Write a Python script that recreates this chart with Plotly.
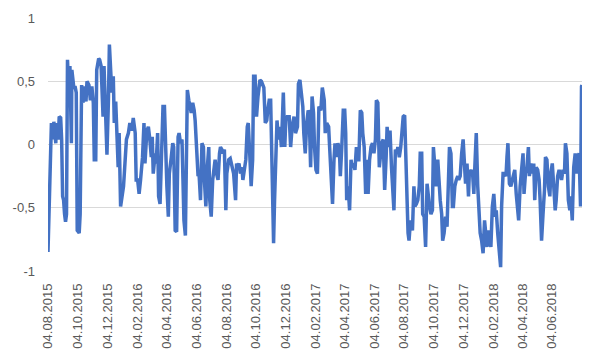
import datetime as dt
import plotly.graph_objects as go

start_date = dt.date(2015, 8, 4)

# day offsets from 04.08.2015 and the series values
day_offsets = [
    0, 3, 7, 10, 12, 16, 17, 21, 23, 26, 28, 30, 32, 34, 36, 38, 40, 43, 45, 48,
    49, 53, 56, 58, 60, 64, 66, 69, 72, 74, 78, 80, 84, 87, 90, 93, 95, 98, 100, 104,
    106, 109, 113, 115, 119, 121, 124, 126, 129, 131, 134, 136, 139, 142, 144, 146, 149, 155,
    161, 165, 168, 172, 175, 179, 181, 184, 187, 190, 194, 197, 199, 203, 206, 209, 212, 214,
    216, 220, 222, 225, 227, 230, 233, 236, 239, 241, 244, 247, 249, 253, 256, 258, 261, 264,
    267, 269, 272, 275, 277, 279, 282, 284, 286, 289, 291, 294, 297, 300, 302, 305, 308, 310,
    313, 316, 319, 321, 324, 327, 330, 332, 335, 338, 341, 343, 346, 349, 352, 354, 357,
    359, 362, 365, 367, 371, 374, 378, 381, 385, 387, 389, 392, 395, 398, 400, 403, 406, 409,
    411, 414, 417, 420, 422, 425, 428, 431, 435, 438, 440, 443, 446, 449, 451, 454, 457, 459,
    461, 463, 465, 468, 470, 473, 476, 479, 481, 483, 486, 488, 491, 495, 498, 501, 505, 508,
    512, 514, 517, 520, 523, 525, 528, 531, 534, 536, 539, 542, 545, 547, 550, 553,
    556, 560, 563, 567, 569, 572, 576, 578, 581, 584, 587, 589, 592, 595, 598, 600, 603, 606,
    609, 611, 613, 616, 619, 622, 624, 627, 630, 633, 635, 638, 641, 644, 646, 649, 652, 655,
    657, 660, 663, 666, 669, 672, 674, 677, 680, 683, 685, 688, 691, 694, 696, 699, 702, 705,
    707, 710, 713, 716, 718, 721, 724, 727, 729, 732, 735, 737, 739, 741, 744,
    748, 751, 753, 756, 759, 762, 764, 767, 769, 772, 775, 778, 780, 783, 786, 789, 791, 794,
    797, 800, 802, 805, 808, 810, 813, 816, 819, 821, 824, 827, 830, 832, 835, 838, 841, 843,
    846, 849, 852, 854, 857, 860, 863, 865, 868, 871, 874, 876, 879, 882, 885, 887, 890, 893,
    896, 898, 901, 904, 907, 909, 912, 915, 918, 920, 923, 926, 929, 931, 934, 937, 940, 942, 944,
    947, 950, 953, 955, 958, 961, 964, 966, 969, 972, 975, 977, 980, 983, 986, 988, 991, 994,
    997, 999, 1002, 1005, 1008, 1010, 1013, 1016, 1019, 1021, 1024, 1027, 1030, 1032, 1035, 1038,
    1041, 1043, 1046, 1049, 1052, 1054, 1057, 1060, 1062, 1065, 1068, 1071, 1073, 1076, 1079,
    1082, 1084, 1087, 1090, 1093, 1095, 1096,
]

values = [
    -0.85, -0.41, 0.17, 0.04, 0.18, 0.01, 0.17, 0.04, 0.22, 0.21, 0.04, -0.41, -0.44, -0.55, -0.61, -0.55, 0.67, 0.38, 0.62, 0.01,
    0.59, 0.45, 0.45, 0.41, -0.68, -0.70, -0.55, 0.47, 0.33, 0.46, 0.34, 0.50, 0.47, 0.35, 0.46, 0.33, -0.12, -0.12, 0.59, 0.68,
    0.67, 0.62, 0.22, 0.62, 0.14, -0.08, 0.35, 0.79, 0.56, 0.41, 0.54, 0.17, 0.34, 0.06, -0.18, 0.09, -0.49, -0.33,
    0.04, 0.09, 0.17, 0.11, 0.21, 0.09, -0.28, -0.28, -0.39, -0.28, -0.10, 0.17, -0.15, 0.11, 0.14, 0.04, -0.10, 0.06,
    -0.23, -0.07, -0.15, 0.09, -0.41, -0.47, -0.04, 0.30, 0.30, -0.04, -0.33, -0.57, -0.23, -0.10, 0.01, -0.02, -0.68, -0.69,
    0.06, 0.09, 0.01, 0.04, -0.18, -0.60, -0.72, -0.04, 0.43, 0.35, 0.30, 0.25, 0.33, 0.27, 0.19, -0.12, -0.25, -0.23,
    -0.44, 0.01, -0.02, -0.28, -0.49, -0.18, -0.02, -0.44, -0.57, -0.28, -0.20, -0.12, -0.23, -0.28, -0.07, -0.02, -0.04,
    -0.07, -0.04, -0.52, -0.23, -0.12, -0.11, -0.18, -0.23, -0.44, -0.15, -0.18, -0.15, -0.23, -0.18, -0.28, -0.18, -0.12, 0.14,
    0.17, -0.07, -0.33, -0.12, 0.54, 0.54, 0.22, 0.38, 0.51, 0.50, 0.47, 0.45, 0.17, 0.19, 0.27, 0.35, 0.35, -0.10,
    -0.44, -0.78, -0.44, 0.09, 0.19, 0.04, 0.14, -0.02, 0.14, 0.41, -0.02, 0.19, 0.22, 0.22, -0.02, 0.14, 0.22, 0.09,
    0.14, 0.48, 0.51, 0.41, 0.30, 0.09, -0.07, 0.17, 0.27, 0.25, -0.18, 0.38, 0.25, -0.02, -0.20, -0.23,
    0.30, 0.27, 0.45, 0.35, 0.09, 0.17, 0.14, -0.02, -0.25, -0.47, -0.12, 0.01, -0.10, 0.01, -0.04, -0.25, -0.02, 0.27,
    0.27, 0.09, -0.44, -0.33, -0.52, -0.12, -0.18, -0.15, -0.20, -0.02, -0.12, -0.12, 0.27, 0.25, 0.09, -0.02, -0.39, -0.12,
    -0.39, -0.12, -0.02, 0.01, -0.07, 0.04, 0.35, 0.33, -0.18, -0.02, 0.01, 0.04, -0.36, -0.10, 0.14, -0.02, 0.11, -0.18,
    -0.31, -0.52, -0.04, -0.07, -0.02, -0.10, -0.02, 0.14, 0.22, 0.23, -0.07, -0.44, -0.70, -0.76, -0.60,
    -0.68, -0.33, -0.49, -0.47, -0.44, -0.33, -0.07, -0.07, -0.55, -0.57, -0.81, -0.31, -0.39, -0.49, -0.55, -0.52, -0.02, -0.23,
    -0.33, -0.12, -0.31, -0.44, -0.55, -0.76, -0.70, -0.57, -0.65, -0.39, -0.02, -0.07, -0.49, -0.49, -0.33, -0.28, -0.25, -0.28,
    -0.25, -0.07, 0.04, -0.10, -0.31, -0.15, -0.41, -0.20, -0.23, -0.20, -0.39, -0.18, 0.09, -0.33, -0.60, -0.70, -0.76, -0.86,
    -0.60, -0.70, -0.81, -0.68, -0.78, -0.81, -0.49, -0.39, -0.57, -0.52, -0.70, -0.86, -0.97, -0.49, -0.23, -0.23, -0.25, -0.10, 0.01,
    -0.31, -0.33, -0.28, -0.25, -0.20, -0.39, -0.49, -0.60, -0.33, -0.23, -0.07, -0.39, -0.23, -0.18, -0.02, -0.25, -0.15, -0.23,
    -0.15, -0.44, -0.18, -0.20, -0.28, -0.44, -0.76, -0.55, -0.36, -0.10, -0.12, -0.33, -0.41, -0.23, -0.15, -0.33,
    -0.52, -0.44, -0.25, -0.20, -0.25, -0.28, -0.20, -0.23, 0.01, -0.07, -0.44, -0.52, -0.41, -0.60, -0.18,
    -0.07, -0.23, -0.10, -0.07, -0.49, 0.46, 0.47,
]

x_tick_dates = [
    "2015-08-04", "2015-10-04", "2015-12-04", "2016-02-04", "2016-04-04", "2016-06-04",
    "2016-08-04", "2016-10-04", "2016-12-04", "2017-02-04", "2017-04-04", "2017-06-04",
    "2017-08-04", "2017-10-04", "2017-12-04", "2018-02-04", "2018-04-04", "2018-06-04",
]
x_tick_labels = [
    "04.08.2015", "04.10.2015", "04.12.2015", "04.02.2016", "04.04.2016", "04.06.2016",
    "04.08.2016", "04.10.2016", "04.12.2016", "04.02.2017", "04.04.2017", "04.06.2017",
    "04.08.2017", "04.10.2017", "04.12.2017", "04.02.2018", "04.04.2018", "04.06.2018",
]
y_tick_vals = [-1, -0.5, 0, 0.5, 1]
y_tick_labels = ["-1", "-0,5", "0", "0,5", "1"]

dates = [start_date + dt.timedelta(days=d) for d in day_offsets]

fig = go.Figure()
fig.add_trace(go.Scatter(
    x=dates, y=values, mode="lines",
    line=dict(color="#4472C4", width=3.5),
    hoverinfo="skip", showlegend=False,
))

font_family = "Liberation Sans, Arial, sans-serif"
# the page body adds an 8px offset; the figure is sized to fit inside the window
fig.update_layout(
    width=592, height=352,
    margin=dict(l=40, r=18, t=10, b=89),
    paper_bgcolor="white", plot_bgcolor="white",
    font=dict(family=font_family, size=13, color="#595959"),
    showlegend=False,
)
fig.update_xaxes(
    type="date", automargin=False,
    range=["2015-08-04", "2018-08-04"],
    tickmode="array", tickvals=x_tick_dates, ticktext=x_tick_labels,
    tickangle=-90, ticklabelstandoff=9,
    showgrid=False, zeroline=False,
    showline=False, ticks="",
    tickfont=dict(size=13, color="#595959"),
)
fig.update_yaxes(
    automargin=False,
    range=[-1, 1],
    tickmode="array", tickvals=y_tick_vals, ticktext=y_tick_labels,
    showgrid=True, gridcolor="#D9D9D9", gridwidth=1,
    zeroline=False, showline=False, ticks="",
    ticklabelstandoff=12,
    tickfont=dict(size=13, color="#595959"),
)

fig.write_html("out.html")
